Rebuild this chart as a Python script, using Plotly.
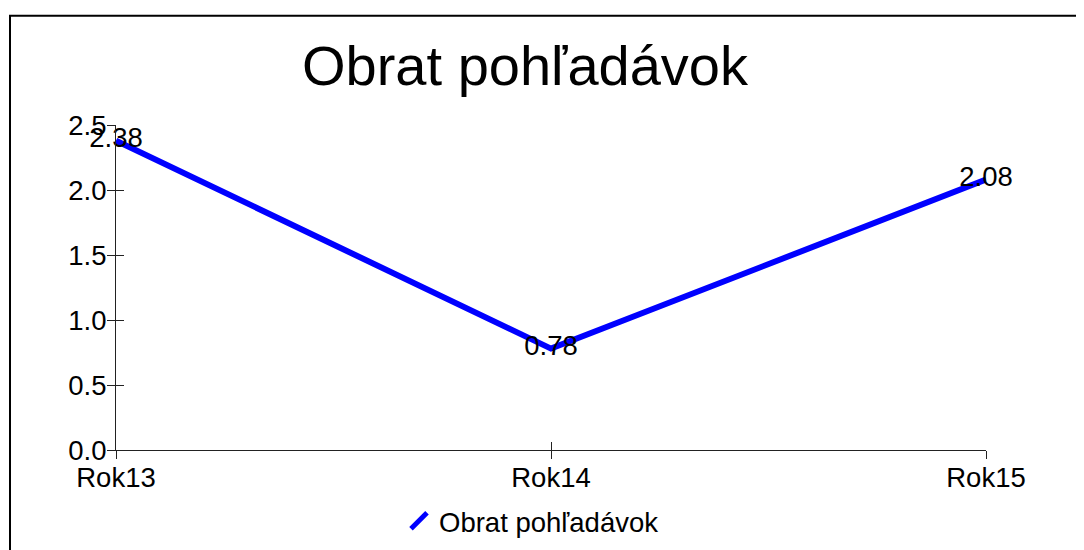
import plotly.graph_objects as go

categories = ["Rok13", "Rok14", "Rok15"]
values = [2.38, 0.78, 2.08]
value_labels = ["2.38", "0.78", "2.08"]
series_name = "Obrat pohľadávok"
title_text = "Obrat pohľadávok"
y_tickvals = [0.0, 0.5, 1.0, 1.5, 2.0, 2.5]

FONT = "Liberation Sans, Arial, Helvetica, sans-serif"
W, H = 1084, 550
OFF = 8  # page body margin offset
# target page pixels of plot area
PL, PR, PT, PB = 116, 986, 125, 455
L = PL - OFF
T = PT - OFF
R = W - (PR - OFF)
B = H - (PB - OFF)
pw, ph = PR - PL, PB - PT

def px_x(p):
    return (p - PL) / pw

def px_y(p):
    return (PB - p) / ph

FS = 27.5

fig = go.Figure()

fig.add_trace(go.Scatter(
    x=categories, y=values, mode="lines+text",
    text=value_labels, textposition="middle center",
    textfont=dict(size=FS, color="black", family=FONT),
    line=dict(color="#0000ff", width=6),
    showlegend=False, hoverinfo="skip", cliponaxis=False,
))

# transparent trace to carry the overlay axes (for crossing ticks)
fig.add_trace(go.Scatter(
    x=categories, y=values, mode="lines", xaxis="x2", yaxis="y2",
    line=dict(color="rgba(0,0,0,0)", width=0), showlegend=False, hoverinfo="skip",
))

# legend entry with slanted symbol
fig.add_trace(go.Scatter(
    x=[None], y=[None], mode="markers", name=series_name,
    marker=dict(symbol="line-ne", size=16, color="#0000ff",
                line=dict(color="#0000ff", width=5)),
))

axis_common = dict(showgrid=False, zeroline=False)
fig.update_layout(
    width=W, height=H,
    margin=dict(l=L, r=R, t=T, b=B),
    paper_bgcolor="white", plot_bgcolor="white",
    font=dict(family=FONT, color="black", size=FS),
    title=dict(text=title_text, x=(525 - OFF) / W, xanchor="center",
               y=1 - (65 - OFF) / H, yanchor="middle",
               font=dict(size=56, family=FONT, color="black")),
    xaxis=dict(type="category", range=[0, 2], showline=True, linecolor="#222",
               linewidth=1, ticks="outside", ticklen=8, tickcolor="#222",
               ticklabelstandoff=-5,
               tickfont=dict(size=FS), **axis_common),
    yaxis=dict(range=[0, 2.5], tickvals=y_tickvals, tickformat=".1f",
               showline=True, linecolor="#222", linewidth=1,
               ticks="outside", ticklen=8, tickcolor="#222",
               ticklabelstandoff=-5,
               tickfont=dict(size=FS), **axis_common),
    xaxis2=dict(type="category", range=[0, 2], overlaying="x", anchor="y2",
                ticks="inside", ticklen=8, tickcolor="#222",
                showticklabels=False, showline=False, side="bottom", **axis_common),
    yaxis2=dict(range=[0, 2.5], tickvals=y_tickvals, overlaying="y", anchor="x2",
                ticks="inside", ticklen=8, tickcolor="#222",
                showticklabels=False, showline=False, side="left", **axis_common),
    showlegend=True,
    legend=dict(orientation="h", x=px_x(399), xanchor="left",
                y=px_y(527), yanchor="middle",
                font=dict(size=FS, family=FONT, color="black"),
                bgcolor="rgba(0,0,0,0)"),
    shapes=[dict(type="rect", xref="paper", yref="paper",
                 x0=px_x(10), x1=px_x(1110), y0=px_y(580), y1=px_y(14),
                 line=dict(color="black", width=2), layer="below")],
)

fig.write_html("out.html")
